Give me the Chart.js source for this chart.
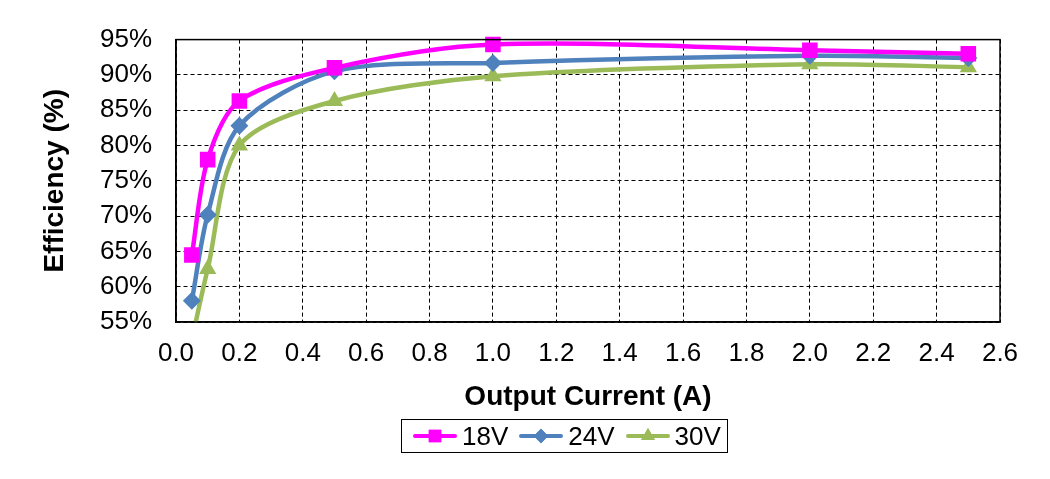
<!DOCTYPE html>
<html lang="en">
  <head>
    <meta charset="UTF-8" />
    <title>Efficiency vs Output Current</title>
    <script src="https://cdn.jsdelivr.net/npm/chart.js"></script>
    <style>
      body { margin: 0; background: #fff; }
      #wrap { position: relative; width: 1050px; height: 479px; }
      #legend {
        position: absolute; left: 401px; top: 419px; width: 325px; height: 32px;
        border: 1px solid #000; display: flex; align-items: center;
        font-family: "Liberation Sans", Arial, sans-serif; font-size: 26px; color: #000;
      }
      #legend .item { display: flex; align-items: center; margin-left: 10px; }
      #legend .item canvas { margin-right: 4px; }
    </style>
  </head>
  <body>
    <div id="wrap">
      <canvas id="eff-chart" width="1050" height="479"></canvas>
      <div id="legend"></div>
    </div>
    <script>
      // data (output current in A, efficiency in %)
      const current18 = [0.05, 0.1, 0.2, 0.5, 1.0, 2.0, 2.5];
      const eff18 = [64.5, 78.0, 86.3, 91.0, 94.3, 93.5, 93.0];
      const current24 = [0.05, 0.1, 0.2, 0.5, 1.0, 2.0, 2.5];
      const eff24 = [58.0, 70.2, 82.8, 90.5, 91.7, 92.7, 92.4];
      const current30 = [0.05, 0.1, 0.2, 0.5, 1.0, 2.0, 2.5];
      const eff30 = [52.5, 62.5, 80.0, 86.3, 89.8, 91.5, 91.1];
      const seriesNames = ["18V", "24V", "30V"];
      const seriesColors = ["#FF00FF", "#4F81BD", "#9BBB59"];
      const seriesMarkers = ["rect", "rectRot", "triangle"];
      const markerSizes = [11, 9, 10];
      const xTicks = [0, 2.6, 0.2]; // min, max, step
      const yTicks = [55, 95, 5];

      const font = '"Liberation Sans", Arial, sans-serif';

      function toPoints(xs, ys) {
        return xs.map((x, i) => ({ x: x, y: ys[i] }));
      }

      const allData = [
        toPoints(current18, eff18),
        toPoints(current24, eff24),
        toPoints(current30, eff30),
      ];

      const datasets = seriesNames.map((name, i) => ({
        label: name,
        data: allData[i],
        borderColor: seriesColors[i],
        backgroundColor: seriesColors[i],
        borderWidth: 4.5,
        pointStyle: seriesMarkers[i],
        pointRadius: markerSizes[i],
        pointBorderWidth: 0,
        pointBackgroundColor: seriesColors[i],
        tension: 0.3,
        clip: { left: 0, top: 12, right: 12, bottom: 0 },
      }));

      // closes the box on top and right
      const frame = {
        id: "frame",
        afterDraw(chart) {
          const a = chart.chartArea;
          const c = chart.ctx;
          c.save();
          c.strokeStyle = "#000";
          c.lineWidth = 1.5;
          c.strokeRect(a.left, a.top, a.right - a.left, a.bottom - a.top);
          c.restore();
        },
      };

      const ctx = document.getElementById("eff-chart").getContext("2d");
      const myChart = new Chart(ctx, {
        type: "line",
        data: { datasets: datasets },
        options: {
          responsive: false,
          animation: false,
          layout: { padding: { left: 30, top: 37, right: 50, bottom: 65 } },
          scales: {
            x: {
              type: "linear",
              min: xTicks[0],
              max: xTicks[1],
              ticks: {
                stepSize: xTicks[2],
                color: "#000",
                padding: 16,
                maxRotation: 0,
                font: { family: font, size: 26 },
                callback: (v) => Number(v).toFixed(1),
              },
              grid: { color: "#000", lineWidth: 1, drawTicks: false },
              border: { color: "#000", width: 1.5, dash: [4, 3] },
              title: {
                display: true,
                text: "Output Current (A)",
                color: "#000",
                font: { family: font, size: 28, weight: "bold" },
                padding: 0,
              },
              afterFit: (s) => { s.height = 92; },
            },
            y: {
              min: yTicks[0],
              max: yTicks[1],
              ticks: {
                stepSize: yTicks[2],
                color: "#000",
                padding: 24,
                font: { family: font, size: 26 },
                callback: (v) => v + "%",
              },
              grid: { color: "#000", lineWidth: 1, drawTicks: false },
              border: { color: "#000", width: 1.5, dash: [4, 3] },
              title: {
                display: true,
                text: "Efficiency (%)",
                color: "#000",
                font: { family: font, size: 28, weight: "bold" },
                padding: { top: 8, bottom: 0 },
              },
              afterFit: (s) => { s.width = 146; },
            },
          },
          plugins: {
            legend: { display: false },
            tooltip: { enabled: false },
          },
        },
        plugins: [frame],
      });

      // legend: short line with the series marker in the middle
      const legendBox = document.getElementById("legend");
      seriesNames.forEach((name, i) => {
        const item = document.createElement("div");
        item.className = "item";
        const icon = document.createElement("canvas");
        icon.width = 46;
        icon.height = 30;
        const ic = icon.getContext("2d");
        ic.strokeStyle = seriesColors[i];
        ic.lineWidth = 4;
        ic.lineCap = "round";
        ic.beginPath();
        ic.moveTo(3, 15);
        ic.lineTo(43, 15);
        ic.stroke();
        ic.fillStyle = seriesColors[i];
        Chart.helpers.drawPoint(ic, {
          pointStyle: seriesMarkers[i],
          radius: markerSizes[i] * 0.8,
          rotation: 0,
          borderWidth: 0,
        }, 23, 15);
        ic.fill();
        const text = document.createElement("span");
        text.textContent = name;
        item.appendChild(icon);
        item.appendChild(text);
        legendBox.appendChild(item);
      });
    </script>
  </body>
</html>
